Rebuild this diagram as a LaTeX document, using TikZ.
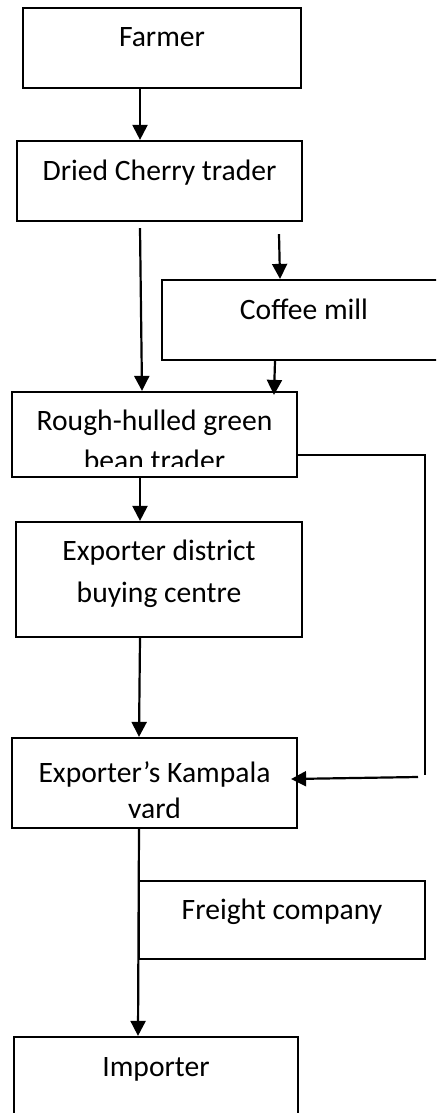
\documentclass[tikz,border=0pt]{standalone}
\usepackage{fontspec}
\setmainfont{Carlito}
\usetikzlibrary{arrows.meta}
\tikzset{
  box/.style={draw, line width=1.1pt, inner sep=0pt, align=center,
    font=\fontsize{14.8}{21}\selectfont},
  single/.style={text height=9pt, text depth=10pt},
  lbl/.style={inner sep=0pt, align=center, anchor=base},
  arr/.style={line width=1.1pt, -{Triangle[length=7.5pt,width=7.5pt]}},
  conn/.style={line width=1.1pt}
}
\begin{document}
\begin{tikzpicture}[x=0.5pt,y=-0.5pt]
  \useasboundingbox (0,0) rectangle (436,1113);
  \clip (0,0) rectangle (436,1113);

  % BOXES
  \node[box, single, minimum width=139pt, minimum height=40pt] (farmer) at (162,48) {Farmer};
  \node[box, single, minimum width=142.5pt, minimum height=40pt] (cherry) at (159.5,181) {Dried Cherry trader};
  \node[box, single, minimum width=142pt, minimum height=40pt] (mill) at (304,320) {Coffee mill};
  \node[box, minimum width=142.5pt, minimum height=42.5pt] (rough) at (154.5,434.5) {};
  \node[box, minimum width=143pt, minimum height=57.5pt] (district) at (159,579.5) {};
  \node[box, minimum width=142.5pt, minimum height=45pt] (kampala) at (154.5,783) {};
  \node[box, single, minimum width=143pt, minimum height=39pt] (freight) at (282,920) {Freight company};
  \node[box, single, minimum width=142pt, minimum height=40pt] (importer) at (156,1077) {Importer};

  % TWO-LINE TEXT, SOME RUNS OUT OF ITS BOX
  \node[lbl, font=\fontsize{14.8}{21}\selectfont] (district-t) at (159,602) {Exporter district\\buying centre};
  \begin{scope}
    \clip (12,392) rectangle (297,466);
    \node[lbl, font=\fontsize{14.8}{20}\selectfont] (rough-t) at (154.5,470) {Rough-hulled green\\bean trader};
  \end{scope}
  \begin{scope}
    \clip (12,738) rectangle (297,817.5);
    \node[lbl, font=\fontsize{14.8}{18}\selectfont] (kampala-t) at (154.5,818) {Exporter’s Kampala\\yard};
  \end{scope}

  % ARROWS
  \draw[arr] ([xshift=-11pt]farmer.south) -- ([xshift=-9.75pt]cherry.north);
  \draw[arr] ([shift={(-9.75pt,-3pt)}]cherry.south) -- ([xshift=-6.25pt]rough.north);
  \draw[arr] ([shift={(59.75pt,-6pt)}]cherry.south) -- ([xshift=-12pt]mill.north);
  \draw[arr] ([xshift=-14.5pt]mill.south) -- ([shift={(59.75pt,-2pt)}]rough.north);
  \draw[arr] ([xshift=-7.25pt]rough.south) -- ([xshift=-9.5pt]district.north);
  \draw[arr] ([xshift=-9.5pt]district.south) -- ([xshift=-7.75pt]kampala.north);
  \draw[arr] ([xshift=-7.75pt]kampala.south) -- ([xshift=-9pt]importer.north);

  % SIDE LINE
  \coordinate (side) at (425,775);
  \coordinate (sidein) at (418,777);
  \draw[conn] ([yshift=-10.25pt]rough.east) -| (side);
  \draw[arr] (sidein) -- ([shift={(-3.5pt,2pt)}]kampala.east);
\end{tikzpicture}
\end{document}
